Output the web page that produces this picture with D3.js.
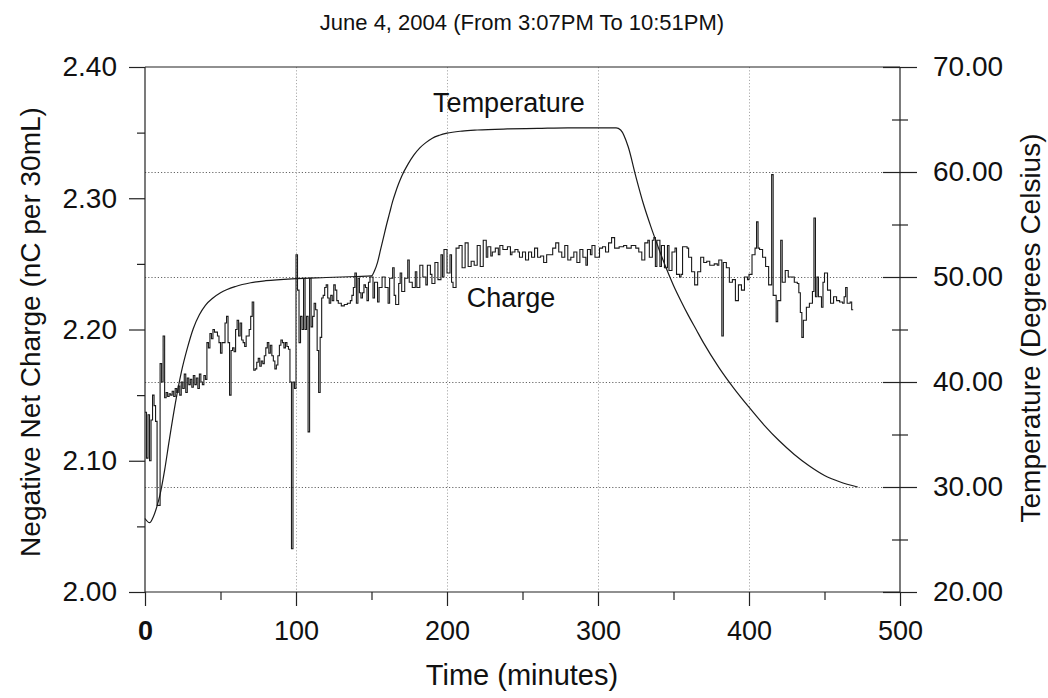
<!DOCTYPE html>
<html>
<head>
<meta charset="utf-8">
<script src="https://cdn.jsdelivr.net/npm/d3@7"></script>
<style>
  html, body { margin: 0; padding: 0; background: #fff; }
  svg { display: block; }
  text { font-family: "Liberation Sans", Arial, sans-serif; fill: #111; }
</style>
</head>
<body>
<svg id="chart" width="1048" height="698"></svg>
<script>
// Elapsed time (minutes) and charge readings (nC per 30 mL), one row per ten samples
const chargeTime = [
  0, 1, 2, 3, 4, 5, 6, 7, 8, 10,
  11, 12, 13, 14, 15, 16, 17, 18, 19, 20,
  21, 22, 23, 24, 25, 26, 27, 28, 29, 30,
  31, 32, 33, 34, 35, 36, 37, 38, 39, 40,
  41, 42, 43, 44, 45, 46, 48, 49, 50, 51,
  53, 54, 55, 56, 57, 58, 59, 60, 61, 62,
  63, 64, 65, 66, 67, 69, 70, 71, 72, 73,
  74, 75, 76, 77, 78, 79, 80, 81, 82, 83,
  84, 85, 86, 87, 88, 89, 90, 91, 92, 93,
  94, 95, 96, 97, 98, 99, 100, 101, 102, 103,
  104, 105, 106, 107, 108, 109, 110, 111, 112, 113,
  114, 115, 116, 117, 118, 119, 120, 121, 122, 123,
  124, 125, 126, 127, 128, 130, 132, 134, 136, 137,
  138, 139, 140, 141, 142, 143, 144, 145, 146, 147,
  148, 149, 151, 152, 154, 155, 157, 159, 161, 162,
  164, 165, 166, 168, 169, 170, 172, 174, 175, 177,
  179, 180, 182, 184, 186, 187, 189, 190, 192, 194,
  196, 197, 198, 200, 202, 203, 204, 206, 208, 210,
  212, 214, 216, 218, 220, 222, 224, 226, 227, 229,
  230, 232, 234, 235, 237, 240, 242, 243, 245, 247,
  248, 250, 252, 254, 256, 258, 260, 262, 264, 266,
  268, 270, 272, 274, 276, 278, 280, 282, 284, 286,
  288, 290, 292, 293, 295, 296, 298, 301, 303, 305,
  307, 309, 311, 314, 317, 319, 322, 325, 327, 329,
  331, 333, 334, 336, 337, 338, 339, 341, 342, 344,
  346, 347, 349, 351, 352, 354, 355, 356, 359, 360,
  362, 364, 366, 368, 370, 372, 374, 377, 379, 380,
  382, 383, 385, 387, 389, 391, 393, 395, 397, 399,
  400, 402, 404, 405, 406, 407, 409, 411, 413, 415,
  416, 418, 419, 421, 422, 424, 426, 428, 430, 432,
  433, 434, 435, 436, 438, 440, 442, 443, 444, 445,
  446, 448, 449, 450, 452, 454, 456, 458, 460, 462,
  463, 464, 465, 467, 468, 469
];
const chargeValue = [
  2.137, 2.102, 2.135, 2.100, 2.131, 2.150, 2.142, 2.130, 2.066, 2.174,
  2.160, 2.195, 2.148, 2.152, 2.149, 2.151, 2.150, 2.153, 2.149, 2.155,
  2.152, 2.157, 2.150, 2.160, 2.155, 2.166, 2.152, 2.163, 2.158, 2.162,
  2.156, 2.165, 2.158, 2.163, 2.155, 2.166, 2.160, 2.158, 2.165, 2.162,
  2.190, 2.186, 2.197, 2.193, 2.200, 2.198, 2.195, 2.190, 2.182, 2.190,
  2.205, 2.210, 2.190, 2.150, 2.184, 2.186, 2.183, 2.200, 2.207, 2.195,
  2.205, 2.192, 2.190, 2.187, 2.195, 2.200, 2.210, 2.221, 2.169, 2.170,
  2.175, 2.178, 2.172, 2.176, 2.174, 2.180, 2.186, 2.190, 2.182, 2.188,
  2.180, 2.176, 2.170, 2.173, 2.180, 2.188, 2.192, 2.190, 2.186, 2.190,
  2.187, 2.185, 2.160, 2.033, 2.160, 2.155, 2.257, 2.230, 2.190, 2.210,
  2.200, 2.239, 2.200, 2.210, 2.122, 2.239, 2.202, 2.210, 2.220, 2.215,
  2.184, 2.152, 2.194, 2.224, 2.226, 2.232, 2.234, 2.224, 2.220, 2.226,
  2.222, 2.234, 2.230, 2.222, 2.220, 2.218, 2.219, 2.220, 2.222, 2.226,
  2.232, 2.243, 2.220, 2.239, 2.228, 2.224, 2.228, 2.234, 2.232, 2.222,
  2.236, 2.240, 2.224, 2.236, 2.221, 2.232, 2.240, 2.232, 2.220, 2.239,
  2.247, 2.226, 2.219, 2.235, 2.243, 2.229, 2.239, 2.253, 2.236, 2.232,
  2.244, 2.232, 2.249, 2.240, 2.234, 2.249, 2.242, 2.235, 2.251, 2.238,
  2.257, 2.240, 2.261, 2.243, 2.257, 2.236, 2.232, 2.262, 2.264, 2.247,
  2.266, 2.248, 2.252, 2.249, 2.264, 2.248, 2.268, 2.255, 2.263, 2.256,
  2.259, 2.262, 2.257, 2.264, 2.261, 2.263, 2.257, 2.259, 2.261, 2.259,
  2.255, 2.259, 2.253, 2.259, 2.255, 2.262, 2.255, 2.256, 2.251, 2.257,
  2.257, 2.262, 2.266, 2.259, 2.255, 2.264, 2.253, 2.255, 2.259, 2.251,
  2.261, 2.255, 2.249, 2.261, 2.257, 2.264, 2.255, 2.262, 2.263, 2.259,
  2.266, 2.270, 2.262, 2.263, 2.264, 2.262, 2.264, 2.262, 2.259, 2.253,
  2.266, 2.268, 2.255, 2.268, 2.270, 2.248, 2.268, 2.248, 2.264, 2.247,
  2.264, 2.245, 2.259, 2.262, 2.242, 2.240, 2.242, 2.263, 2.262, 2.255,
  2.244, 2.234, 2.244, 2.255, 2.251, 2.252, 2.249, 2.250, 2.249, 2.253,
  2.195, 2.251, 2.247, 2.236, 2.238, 2.222, 2.234, 2.230, 2.240, 2.238,
  2.242, 2.257, 2.262, 2.282, 2.262, 2.261, 2.255, 2.248, 2.234, 2.318,
  2.226, 2.206, 2.222, 2.268, 2.236, 2.245, 2.240, 2.240, 2.236, 2.235,
  2.228, 2.213, 2.194, 2.207, 2.217, 2.220, 2.229, 2.285, 2.225, 2.240,
  2.225, 2.217, 2.236, 2.243, 2.230, 2.220, 2.225, 2.222, 2.221, 2.220,
  2.225, 2.232, 2.220, 2.221, 2.215, 2.215
];

// Water temperature (degrees Celsius) over the same run
const tempTime = [
  0, 3, 5, 8, 10, 13, 16, 20, 24, 28,
  32, 36, 40, 45, 50, 60, 70, 80, 100, 120,
  140, 150, 152, 154, 156, 158, 160, 162, 164, 166,
  168, 170, 174, 178, 182, 186, 190, 195, 200, 210,
  220, 240, 260, 280, 300, 312, 315, 320, 325, 330,
  335, 340, 345, 350, 355, 360, 365, 370, 380, 390,
  400, 410, 420, 430, 440, 450, 460, 472
];
const tempValue = [
  27.0, 26.6, 27.0, 28.2, 29.3, 31.6, 34.4, 37.9, 40.9, 43.2,
  45.1, 46.4, 47.3, 48.0, 48.5, 49.1, 49.45, 49.65, 49.85, 49.95,
  50.05, 50.1, 50.6, 51.4, 52.6, 53.8, 55.0, 56.1, 57.2, 58.1,
  58.9, 59.6, 60.7, 61.6, 62.3, 62.8, 63.2, 63.5, 63.7, 63.9,
  64.0, 64.1, 64.15, 64.2, 64.2, 64.2, 64.0, 62.4, 59.6, 57.0,
  54.8, 52.8, 50.9, 49.2, 47.7, 46.3, 45.0, 43.7, 41.4, 39.4,
  37.6, 35.9, 34.4, 33.1, 32.0, 31.1, 30.5, 30.0
];

// Axis ticks
const timeMajorTicks = [0, 100, 200, 300, 400, 500];
const timeMinorTicks = [50, 150, 250, 350, 450];
const chargeMajorTicks = [2.00, 2.10, 2.20, 2.30, 2.40];
const chargeMinorTicks = [2.05, 2.15, 2.25, 2.35];
const tempMajorTicks = [20, 30, 40, 50, 60, 70];
const tempMinorTicks = [25, 35, 45, 55, 65];

const titleText = "June 4, 2004 (From 3:07PM To 10:51PM)";
const xTitle = "Time (minutes)";
const yLeftTitle = "Negative Net Charge (nC per 30mL)";
const yRightTitle = "Temperature (Degrees Celsius)";

const svg = d3.select("#chart");
const plot = { left: 145, right: 900, top: 67, bottom: 592 };

const x = d3.scaleLinear().domain([0, 500]).range([plot.left, plot.right]);
const yC = d3.scaleLinear().domain([2.0, 2.4]).range([plot.bottom, plot.top]);
const yT = d3.scaleLinear().domain([20, 70]).range([plot.bottom, plot.top]);

svg.append("rect").attr("width", 1048).attr("height", 698).attr("fill", "#fff");

// Dotted grid: horizontal at the inner temperature majors, vertical at inner time majors
const grid = svg.append("g").attr("stroke", "#666").attr("stroke-width", 1)
  .attr("stroke-dasharray", "1.2,2");
grid.selectAll("line.h").data(tempMajorTicks.slice(1, -1)).join("line")
  .attr("class", "h")
  .attr("x1", plot.left).attr("x2", plot.right)
  .attr("y1", d => Math.round(yT(d)) + 0.5).attr("y2", d => Math.round(yT(d)) + 0.5);
grid.selectAll("line.v").data(timeMajorTicks.slice(1, -1)).join("line")
  .attr("class", "v")
  .attr("stroke", "#aaa")
  .attr("y1", plot.top).attr("y2", plot.bottom)
  .attr("x1", d => Math.round(x(d)) + 0.5).attr("x2", d => Math.round(x(d)) + 0.5);

// Frame lines
const frame = svg.append("g").attr("stroke", "#222").attr("stroke-width", 1.2);
frame.append("line").attr("x1", plot.left).attr("x2", plot.left).attr("y1", plot.top).attr("y2", plot.bottom);
frame.append("line").attr("x1", plot.right).attr("x2", plot.right).attr("y1", plot.top).attr("y2", plot.bottom);
frame.append("line").attr("x1", plot.left).attr("x2", plot.right).attr("y1", plot.bottom).attr("y2", plot.bottom);
frame.append("line").attr("x1", plot.left).attr("x2", plot.right).attr("y1", plot.top).attr("y2", plot.top);

function styleAxis(g) {
  g.select(".domain").remove();
  g.selectAll(".tick line").attr("stroke", "#222").attr("stroke-width", 1.2);
  g.selectAll(".tick text").attr("fill", "#111")
    .style("font-family", '"Liberation Sans", Arial, sans-serif');
}

// Bottom axis
svg.append("g").attr("transform", `translate(0,${plot.bottom})`)
  .call(d3.axisBottom(x).tickValues(timeMinorTicks).tickSize(8).tickFormat(""))
  .call(styleAxis);
const xAxisG = svg.append("g").attr("transform", `translate(0,${plot.bottom})`)
  .call(d3.axisBottom(x).tickValues(timeMajorTicks).tickSize(14).tickPadding(15)
    .tickFormat(d3.format("d")))
  .call(styleAxis);
xAxisG.selectAll(".tick text").style("font-size", "27px");
xAxisG.selectAll(".tick text").filter(d => d === 0)
  .style("font-weight", "bold");

// Left axis (charge)
svg.append("g").attr("transform", `translate(${plot.left},0)`)
  .call(d3.axisLeft(yC).tickValues(chargeMinorTicks).tickSize(8).tickFormat(""))
  .call(styleAxis);
const yLeftG = svg.append("g").attr("transform", `translate(${plot.left},0)`)
  .call(d3.axisLeft(yC).tickValues(chargeMajorTicks).tickSize(16).tickPadding(12)
    .tickFormat(d3.format(".2f")))
  .call(styleAxis);
yLeftG.selectAll(".tick text").style("font-size", "28px");

// Right axis (temperature); ticks cross the axis line
svg.append("g").attr("transform", `translate(${plot.right},0)`)
  .call(d3.axisRight(yT).tickValues(tempMinorTicks).tickSize(8).tickFormat(""))
  .call(styleAxis);
svg.append("g").attr("transform", `translate(${plot.right},0)`)
  .call(d3.axisLeft(yT).tickValues(tempMinorTicks).tickSize(8).tickFormat(""))
  .call(styleAxis);
svg.append("g").attr("transform", `translate(${plot.right},0)`)
  .call(d3.axisLeft(yT).tickValues(tempMajorTicks).tickSize(17).tickFormat(""))
  .call(styleAxis);
const yRightG = svg.append("g").attr("transform", `translate(${plot.right},0)`)
  .call(d3.axisRight(yT).tickValues(tempMajorTicks).tickSize(17).tickPadding(16)
    .tickFormat(d3.format(".2f")))
  .call(styleAxis);
yRightG.selectAll(".tick text").style("font-size", "28px");

// Temperature curve
const tempData = tempTime.map((t, i) => ({ t, v: tempValue[i] }));
svg.append("path").datum(tempData)
  .attr("fill", "none").attr("stroke", "#1a1a1a").attr("stroke-width", 1.2)
  .attr("d", d3.line().x(d => x(d.t)).y(d => yT(d.v)).curve(d3.curveMonotoneX));

// Charge trace, held between readings
const chargeData = chargeTime.map((t, i) => ({ t, v: chargeValue[i] }));
svg.append("path").datum(chargeData)
  .attr("fill", "none").attr("stroke", "#1a1a1a").attr("stroke-width", 1.1)
  .attr("d", d3.line().x(d => x(d.t)).y(d => yC(d.v)).curve(d3.curveStepAfter));

// Series labels
svg.append("text").attr("x", x(241)).attr("y", yT(65.7)).attr("text-anchor", "middle")
  .style("font-size", "27px").text("Temperature");
svg.append("text").attr("x", x(242.4)).attr("y", yC(2.2171)).attr("text-anchor", "middle")
  .style("font-size", "27px").text("Charge");

// Titles
svg.append("text").attr("x", 522).attr("y", 30).attr("text-anchor", "middle")
  .style("font-size", "22px").text(titleText);
svg.append("text").attr("x", 522).attr("y", 685).attr("text-anchor", "middle")
  .style("font-size", "29px").text(xTitle);
svg.append("text").attr("transform", "translate(40,332) rotate(-90)")
  .attr("text-anchor", "middle").style("font-size", "28px").text(yLeftTitle);
svg.append("text").attr("transform", "translate(1040,328) rotate(-90)")
  .attr("text-anchor", "middle").style("font-size", "28px").text(yRightTitle);
</script>
</body>
</html>
